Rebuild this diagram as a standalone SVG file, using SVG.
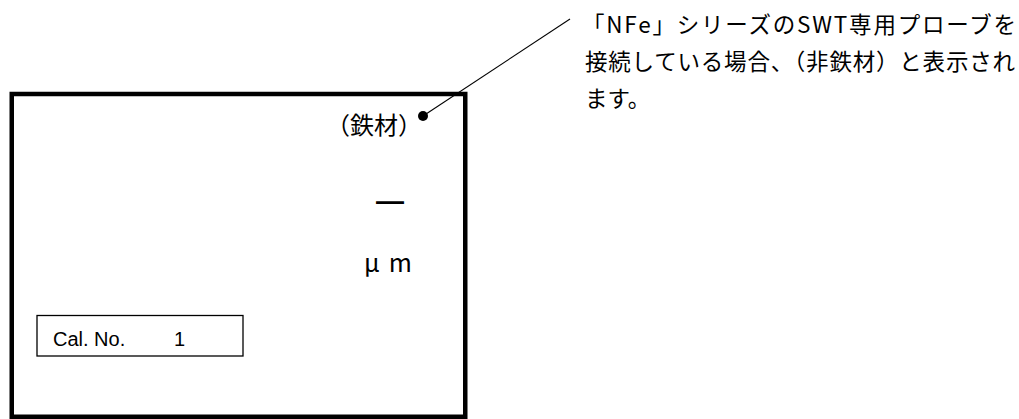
<svg xmlns="http://www.w3.org/2000/svg" width="1019" height="419" viewBox="0 0 1019 419">
<style>
.jp{font-family:"Noto Sans CJK JP","Liberation Sans",sans-serif;fill:#000}
.en{font-family:"Liberation Sans",Arial,sans-serif;fill:#000}
</style>
<rect width="1019" height="419" fill="#fff"/>
<g id="screen">
<rect x="11.75" y="94" width="453.5" height="322.75" fill="none" stroke="#000" stroke-width="4.5"/>
<text class="jp" x="422" y="134" font-size="24" text-anchor="end">（鉄材）</text>
<text class="en" x="390" y="210" font-size="28" font-weight="bold" text-anchor="middle">—</text>
<text class="jp" x="364" y="272" font-size="25">μ<tspan dx="9">m</tspan></text>
</g>
<g id="cal">
<rect x="37" y="315.5" width="206" height="40.5" fill="none" stroke="#000" stroke-width="1.3"/>
<text class="en" x="53" y="346" font-size="20">Cal. No.</text>
<text class="en" x="174" y="346" font-size="20">1</text>
</g>
<g id="note">
<text class="jp" x="582" y="33" font-size="22.5" textLength="434">「NFe」シリーズのSWT専用プローブを</text>
<text class="jp" x="585" y="70" font-size="22.5" textLength="430">接続している場合、（非鉄材）と表示され</text>
<text class="jp" x="585" y="107" font-size="22.5">ます。</text>
</g>
<g id="connectors">
<line x1="570" y1="19" x2="423" y2="116" stroke="#000" stroke-width="1.1"/>
<circle cx="423" cy="116" r="5" fill="#000"/>
</g>
</svg>
